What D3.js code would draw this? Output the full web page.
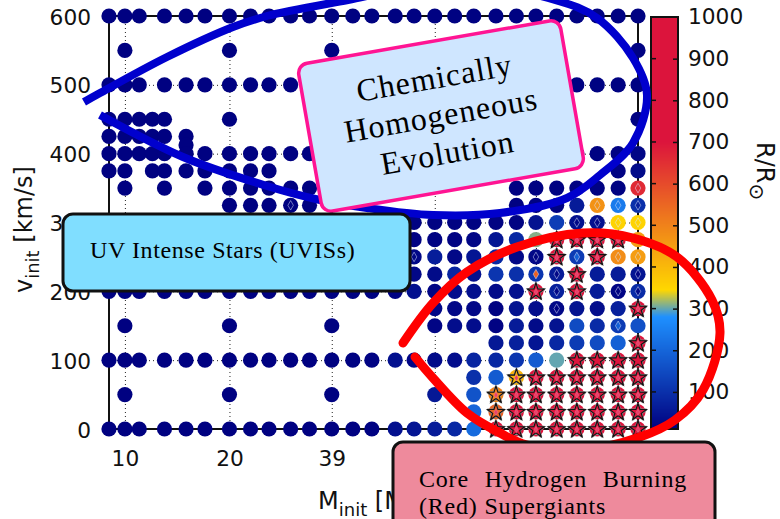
<!DOCTYPE html>
<html><head><meta charset="utf-8">
<script src="https://cdnjs.cloudflare.com/ajax/libs/d3/7.8.5/d3.min.js"></script>
<style>
html,body{margin:0;padding:0;background:#fff;overflow:hidden}
svg{display:block}
text{font-family:"DejaVu Sans",sans-serif;fill:#111}
.note{font-family:"Liberation Serif",serif;fill:#000}
</style></head><body>
<script>
// ---- data ----
const masses = [9,10,11,12,13,15,17,20,23,26,30,34,39.4,45.3,51.4,60,68,78,89,101,117,134,152.5,175,200,229,263,300];
const velocities = [600,550,500,450,425,412.5,400,375,350,325,300,275,250,225,200,175,150,125,100,75,50,25,0];
const massTicks = [10,20,39.4,78,152.5,300];
const massTickLabels = ["10","20","39","","",""];
const velocityTicks = [0,100,200,300,400,500,600];
const radiusTicks = [100,200,300,400,500,600,700,800,900,1000];
const _ = null;
// R/Rsun per model, one list per velocity, aligned with masses
const r600  = [12,12,12,_,12,12,12,12,12,12,12,12,13,13,13,13,14,14,14,14,14,14,14,14,14,14,14,14];
const r550  = [_,12,_,_,_,_,_,12,_,_,_,_,13,_,_,_,_,14,_,_,_,_,14,_,_,_,_,14];
const r500  = [12,12,12,_,12,12,12,12,12,12,12,12,13,13,13,13,14,14,14,14,14,14,14,14,14,14,14,14];
const r450  = [12,12,12,12,12,_,_,12,_,_,_,_,13,_,_,_,_,14,_,_,_,_,14,_,_,_,_,14];
const r425  = [12,12,12,12,12,12,_,_,_,_,_,_,_,_,_,_,_,_,_,_,_,_,_,_,_,_,_,_];
const r412  = [_,_,_,_,_,12,_,_,_,_,_,_,_,_,_,_,_,_,_,_,_,_,_,_,_,_,_,_];
const r400  = [12,12,12,12,12,12,12,12,12,12,12,12,13,13,13,13,14,14,14,14,14,14,14,14,14,14,14,22];
const r375  = [12,12,_,12,12,12,12,12,12,12,_,_,_,_,_,_,_,_,_,_,_,_,_,_,_,_,16,30];
const r350  = [_,12,_,_,12,_,12,12,12,12,12,12,_,_,_,_,_,_,_,_,_,14,14,14,14,14,14,660];
const r325  = [_,_,_,_,_,_,_,12,12,12,12,12,_,_,_,_,_,_,_,_,_,14,14,14,60,470,240,100];
const r300  = [_,_,_,_,_,_,_,_,_,_,_,_,_,_,_,14,15,15,15,15,15,15,45,125,40,40,352,352];
const r275  = [_,_,_,_,_,_,_,_,_,_,_,_,_,_,_,14,16,16,16,22,50,85,310,800,800,800,800,450];
const r250  = [_,_,_,_,_,_,_,_,_,_,_,_,_,_,_,14,25,65,25,50,85,25,25,800,120,800,480,450];
const r225  = [_,_,_,_,_,_,_,_,_,_,_,_,_,_,_,14,25,30,80,40,110,100,110,60,800,60,60,50];
const r200  = [12,12,12,_,12,12,12,12,12,12,12,12,13,13,13,14,40,20,35,40,30,40,800,70,800,60,20,90];
const r175  = [_,_,_,_,_,_,_,_,_,_,_,_,_,_,_,_,_,25,25,25,14,45,35,25,45,35,70,800];
const r150  = [_,12,_,_,_,_,_,12,_,_,_,_,13,_,_,_,_,20,35,35,16,60,30,45,150,90,120,160];
const r125  = [_,_,_,_,_,_,_,_,_,_,_,_,_,_,_,_,_,_,_,_,55,70,50,85,120,150,190,800];
const r100  = [12,12,12,_,12,12,12,12,12,12,12,12,13,14,16,40,22,30,35,80,85,110,180,300,1000,1000,1000,1000];
const r75   = [_,_,_,_,_,_,_,_,_,_,_,_,_,_,_,_,_,_,_,100,180,410,800,800,800,800,800,800];
const r50   = [_,12,_,_,_,_,_,12,_,_,_,_,13,_,_,_,_,55,_,165,500,800,800,800,800,800,800,800];
const r25   = [_,_,_,_,_,_,_,_,_,_,_,_,_,_,_,_,_,_,_,200,560,800,800,800,800,800,800,800];
const r0    = [12,12,12,_,12,12,12,12,12,12,12,12,13,14,14,40,50,60,85,210,800,800,800,800,800,800,800,800];
const radiusRows = [r600,r550,r500,r450,r425,r412,r400,r375,r350,r325,r300,r275,r250,r225,r200,r175,r150,r125,r100,r75,r50,r25,r0];
// models overlaid with a star: [mass, velocity]
const starModels = [
 [175,275],[200,275],[229,275],[263,275],
 [175,250],[229,250],[200,225],[152.5,200],[200,200],[300,175],[300,125],
 [200,100],[229,100],[263,100],[300,100],
 [134,75],[152.5,75],[175,75],[200,75],[229,75],[263,75],[300,75],
 [117,50],[134,50],[152.5,50],[175,50],[200,50],[229,50],[263,50],[300,50],
 [117,25],[134,25],[152.5,25],[175,25],[200,25],[229,25],[263,25],[300,25],
 [117,0],[134,0],[152.5,0],[175,0],[200,0],[229,0],[263,0],[300,0]];
// models overlaid with a small diamond: [mass, velocity, inner R]
const diamondModels = [
 [30,325,12],[68,250,25],
 [300,350,660],[229,325,470],[263,325,240],[300,325,70],
 [200,300,25],[229,300,25],[263,300,352],[300,300,352],
 [152.5,250,15],[200,250,190],[263,250,480],[300,250,450],
 [152.5,225,560],[175,225,25],[300,225,20],
 [175,200,25],[263,200,12],[300,200,30],
 [175,175,12],[263,150,190]];
// radius colour scale stops
const colorStops = [10,280,345,700,1000];
const colorRange = ["#000080","#1e90ff","#ffd700","#dc143c","#dc143c"];

// ---- layout ----
const W=780,H=519;
const plot={l:109,r:638,t:16,b:429};
const cbar={l:651,r:678,t:17,b:429};
const svg=d3.select("body").append("svg").attr("width",W).attr("height",H).attr("viewBox",[0,0,W,H]);
const x=d3.scaleLog().domain([9,300]).range([plot.l,plot.r]);
const y=d3.scaleLinear().domain([0,600]).range([plot.b,plot.t]);
const rad=d3.scaleLinear().domain([11,1000]).range([cbar.b,cbar.t]);
const color=d3.scaleLinear().domain(colorStops).range(colorRange).clamp(true);
const tickFont=21.7;

// grid
const gridX=svg.append("g").attr("transform",`translate(0,${plot.b})`)
  .call(d3.axisBottom(x).tickValues(massTicks).tickSize(-(plot.b-plot.t)).tickPadding(22).tickFormat((d,i)=>massTickLabels[i]));
const gridY=svg.append("g").attr("transform",`translate(${plot.l},0)`)
  .call(d3.axisLeft(y).tickValues(velocityTicks).tickSize(-(plot.r-plot.l)).tickPadding(18));
[gridX,gridY].forEach(g=>{
  g.select(".domain").remove();
  g.selectAll("line").attr("stroke","#222").attr("stroke-width",1).attr("stroke-dasharray","1,3");
  g.selectAll("text").style("font-size",tickFont+"px").attr("fill","#111").style("font-family","DejaVu Sans");
});
gridY.selectAll("text").attr("dy","0.37em");
gridX.selectAll("text").filter(function(){return !this.textContent;}).remove();
// frame
svg.append("rect").attr("x",plot.l).attr("y",plot.t).attr("width",plot.r-plot.l).attr("height",plot.b-plot.t)
  .attr("fill","none").attr("stroke","#111").attr("stroke-width",2);

// model circles
const models=[];
velocities.forEach((v,i)=>radiusRows[i].forEach((r,j)=>{ if(r!==null) models.push({m:masses[j],v,r}); }));
svg.append("g").selectAll("circle").data(models).join("circle")
  .attr("cx",d=>x(d.m)).attr("cy",d=>y(d.v)).attr("r",7.6).attr("fill",d=>color(d.r));

// stars
const radiusAt=(m,v)=>radiusRows[velocities.indexOf(v)][masses.indexOf(m)];
const star=d3.symbol(d3.symbolStar,90)();
const starG=svg.append("g").selectAll("g").data(starModels).join("g")
  .attr("transform",d=>`translate(${x(d[0])},${y(d[1])+0.5})`);
starG.append("path").attr("d",star).attr("fill","none").attr("stroke","#8a8a8a").attr("stroke-width",2.2).attr("stroke-miterlimit",3);
starG.append("path").attr("d",star).attr("fill",d=>color(radiusAt(d[0],d[1]))).attr("stroke","#111").attr("stroke-width",1.1);
starG.filter(d=>d[1]!==100).append("path").attr("d",d3.symbol(d3.symbolDiamond,12)())
  .attr("fill","#e8406a").attr("stroke","#f08aa0").attr("stroke-width",0.4);

// diamonds
svg.append("g").selectAll("path").data(diamondModels).join("path")
  .attr("d",d3.symbol(d3.symbolDiamond,26)())
  .attr("transform",d=>`translate(${x(d[0])},${y(d[1])})`)
  .attr("fill",d=>color(d[2])).attr("stroke","#dfe6ff").attr("stroke-width",0.5);

// colour bar
svg.append("g").selectAll("rect").data(d3.range(cbar.t,cbar.b)).join("rect")
  .attr("x",cbar.l).attr("y",d=>d).attr("width",cbar.r-cbar.l).attr("height",1.2)
  .attr("fill",d=>color(rad.invert(d+0.5)));
svg.append("rect").attr("x",cbar.l).attr("y",cbar.t).attr("width",cbar.r-cbar.l).attr("height",cbar.b-cbar.t)
  .attr("fill","none").attr("stroke","#111").attr("stroke-width",2);
const cbAxis=svg.append("g").attr("transform",`translate(${cbar.r},0)`)
  .call(d3.axisRight(rad).tickValues(radiusTicks).tickSize(-5).tickPadding(14).tickFormat(d3.format("d")));
cbAxis.select(".domain").remove();
cbAxis.selectAll("line").attr("stroke","#111").attr("stroke-width",1.5).filter(d=>d===1000).remove();
cbAxis.selectAll("text").style("font-size",tickFont+"px").style("font-family","DejaVu Sans").attr("fill","#111").attr("x",10).attr("dy","0.32em");
svg.append("g").selectAll("line").data(radiusTicks.slice(0,-1)).join("line")
  .attr("x1",cbar.l).attr("x2",cbar.l+5).attr("y1",d=>rad(d)).attr("y2",d=>rad(d)).attr("stroke","#111").attr("stroke-width",1.5);

// axis titles
const yT=svg.append("text").attr("transform","translate(32,293) rotate(-90)").style("font-size","24px");
yT.append("tspan").text("v");
yT.append("tspan").attr("dy",7).style("font-size","18px").text("init");
yT.append("tspan").attr("dy",-7).text(" [km/s]");
const xT=svg.append("text").attr("x",318).attr("y",509).style("font-size","24px");
xT.append("tspan").text("M");
xT.append("tspan").attr("dy",7).style("font-size","18px").text("init");
xT.append("tspan").attr("dy",-7).text(" [M");
const rT=svg.append("text").attr("transform","translate(757,142) rotate(90)").style("font-size","24px");
rT.append("tspan").text("R/R");
rT.append("tspan").attr("dy",7).style("font-size","20px").text("\u2299");

// annotations
const blueLoop=[[84,102],[100,93],[167,57],[233,27],[267,16],[348,0],[450,-18],[555,0],[597,18],[633,58],[647,95],[633,143],[600,175],[567,198],[500,213],[433,215],[367,208],[320,200],[267,186],[183,157],[100,115]];
const redLoop=[[403,343],[433,303],[467,272],[517,247],[583,233],[633,238],[677,257],[712,300],[720,333],[703,390],[675,420],[640,437],[580,450],[527,445],[500,433],[467,413],[433,378],[415,357]];
const curve=d3.line().curve(d3.curveCatmullRom.alpha(0.5));
svg.append("path").attr("d",curve(blueLoop)).attr("fill","none").attr("stroke","#0000cd").attr("stroke-width",8);

const chem=svg.append("g").attr("transform","translate(441,116) rotate(-9.9)");
chem.append("rect").attr("x",-133).attr("y",-75).attr("width",266).attr("height",150).attr("rx",10)
  .attr("fill","#cfe6ff").attr("stroke","#ff1493").attr("stroke-width",3.5);
["Chemically","Homogeneous","Evolution"].forEach((t,i)=>chem.append("text").attr("class","note")
  .attr("text-anchor","middle").attr("y",-28+i*38).style("font-size","32px").style("letter-spacing","1px").text(t));

svg.append("path").attr("d",curve(redLoop)).attr("fill","none").attr("stroke","#ff0000").attr("stroke-width",9).attr("stroke-linecap","round");

svg.append("rect").attr("x",63).attr("y",214).attr("width",347).attr("height",77).attr("rx",10)
  .attr("fill","#80deff").attr("stroke","#111").attr("stroke-width",3);
svg.append("text").attr("class","note").attr("x",90).attr("y",258).style("font-size","24px").style("letter-spacing","0.6px").text("UV Intense Stars (UVISs)");

svg.append("rect").attr("x",393).attr("y",442).attr("width",322).attr("height",100).attr("rx",10)
  .attr("fill","#ee8a9c").attr("stroke","#111").attr("stroke-width",3);
svg.append("text").attr("class","note").attr("x",419).attr("y",487).style("font-size","24px").style("letter-spacing","0.8px").style("word-spacing","9px").text("Core Hydrogen Burning");
svg.append("text").attr("class","note").attr("x",419).attr("y",514).style("font-size","24px").style("letter-spacing","0.8px").text("(Red) Supergiants");
</script>
</body></html>
